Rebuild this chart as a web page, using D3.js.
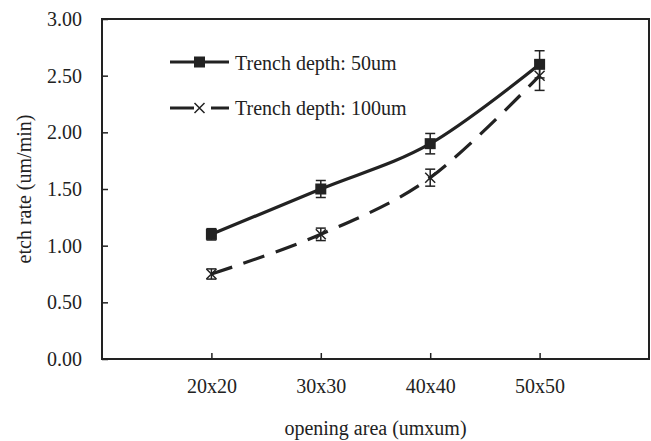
<!DOCTYPE html>
<html>
<head>
<meta charset="utf-8">
<script src="https://cdn.jsdelivr.net/npm/d3@7"></script>
<style>
  html, body { margin: 0; padding: 0; background: #fff; }
  svg text { font-family: "Liberation Serif", "DejaVu Serif", serif; fill: #222; }
</style>
</head>
<body>
<div id="chart"></div>
<script>
// datos
const categories = ['20x20', '30x30', '40x40', '50x50'];
const depth50  = [1.10, 1.50, 1.90, 2.60];
const err50    = [0.05, 0.075, 0.09, 0.12];
const depth100 = [0.75, 1.10, 1.60, 2.50];
const err100   = [0.045, 0.055, 0.075, 0.13];
const yTicks   = [0, 0.5, 1, 1.5, 2, 2.5, 3];

const W = 651, H = 441;
const margin = { top: 19, right: 2, bottom: 82, left: 102 };
const width  = W - margin.left - margin.right;
const height = H - margin.top - margin.bottom;
const fs = 20;

const svg = d3.select('#chart').append('svg')
    .attr('width', W).attr('height', H);

const g = svg.append('g')
    .attr('transform', `translate(${margin.left},${margin.top})`);

// escalas
const x = d3.scaleLinear().domain([0, categories.length + 1]).range([0, width]);
const y = d3.scaleLinear().domain([0, 3]).range([height, 0]);

// marco
g.append('rect')
    .attr('x', 0).attr('y', 0)
    .attr('width', width).attr('height', height)
    .attr('fill', 'none')
    .attr('stroke', '#222')
    .attr('stroke-width', 2);

// eje Y
const yAxis = g.append('g')
    .call(d3.axisLeft(y).tickValues(yTicks).tickFormat(d3.format('.2f'))
      .tickSizeInner(-6).tickSizeOuter(0).tickPadding(20));
yAxis.select('.domain').remove();
yAxis.selectAll('line').attr('stroke', '#222').attr('stroke-width', 1.5);
yAxis.selectAll('text').attr('font-size', fs);

// eje X
const xAxis = g.append('g')
    .attr('transform', `translate(0,${height})`)
    .call(d3.axisBottom(x).tickValues(categories.map((c, i) => i + 1))
      .tickFormat((d, i) => categories[i])
      .tickSizeInner(-6).tickSizeOuter(0).tickPadding(20));
xAxis.select('.domain').remove();
xAxis.selectAll('line').attr('stroke', '#222').attr('stroke-width', 1.5);
xAxis.selectAll('text').attr('font-size', fs);

// títulos
g.append('text')
    .attr('x', width / 2).attr('y', height + 76)
    .attr('text-anchor', 'middle')
    .attr('font-size', fs)
    .text('opening area (umxum)');

g.append('text')
    .attr('transform', `translate(${-margin.left + 31},${height / 2}) rotate(-90)`)
    .attr('text-anchor', 'middle')
    .attr('font-size', fs)
    .text('etch rate (um/min)');

// líneas
const line = d3.line()
    .x((d, i) => x(i + 1))
    .y(d => y(d))
    .curve(d3.curveCardinal.tension(0));

g.append('path')
    .datum(depth100)
    .attr('d', line)
    .attr('fill', 'none')
    .attr('stroke', '#222')
    .attr('stroke-width', 3.2)
    .attr('stroke-dasharray', '22,12');

g.append('path')
    .datum(depth50)
    .attr('d', line)
    .attr('fill', 'none')
    .attr('stroke', '#222')
    .attr('stroke-width', 3.2);

// barras de error
function errorBars(vals, errs) {
  const eg = g.append('g').attr('stroke', '#222').attr('stroke-width', 1.5);
  vals.forEach((v, i) => {
    const cx = x(i + 1);
    eg.append('line').attr('x1', cx).attr('x2', cx)
      .attr('y1', y(v - errs[i])).attr('y2', y(v + errs[i]));
    [v - errs[i], v + errs[i]].forEach(e => {
      eg.append('line').attr('x1', cx - 5).attr('x2', cx + 5)
        .attr('y1', y(e)).attr('y2', y(e));
    });
  });
}
errorBars(depth50, err50);
errorBars(depth100, err100);

// marcadores
function squareMark(sel, cx, cy) {
  sel.append('rect')
    .attr('x', cx - 5.5).attr('y', cy - 5.5)
    .attr('width', 11).attr('height', 11)
    .attr('fill', '#222');
}
function crossMark(sel, cx, cy) {
  const s = 5;
  sel.append('path')
    .attr('d', `M${cx - s},${cy - s}L${cx + s},${cy + s}M${cx - s},${cy + s}L${cx + s},${cy - s}`)
    .attr('stroke', '#222').attr('stroke-width', 1.5).attr('fill', 'none');
}
depth50.forEach((v, i) => squareMark(g, x(i + 1), y(v)));
depth100.forEach((v, i) => crossMark(g, x(i + 1), y(v)));

// leyenda
const legend = svg.append('g');
const lx0 = 170, lx1 = 229, ly1 = 62, ly2 = 108;
legend.append('line')
    .attr('x1', lx0).attr('x2', lx1).attr('y1', ly1).attr('y2', ly1)
    .attr('stroke', '#222').attr('stroke-width', 3.2);
squareMark(legend, (lx0 + lx1) / 2, ly1);
legend.append('text')
    .attr('x', 235).attr('y', ly1 + 8)
    .attr('font-size', fs)
    .text('Trench depth: 50um');

legend.append('line')
    .attr('x1', lx0).attr('x2', lx1).attr('y1', ly2).attr('y2', ly2)
    .attr('stroke', '#222').attr('stroke-width', 3.2)
    .attr('stroke-dasharray', '24,17,18');
crossMark(legend, (lx0 + lx1) / 2, ly2);
legend.append('text')
    .attr('x', 235).attr('y', ly2 + 7)
    .attr('font-size', fs)
    .text('Trench depth: 100um');
</script>
</body>
</html>
